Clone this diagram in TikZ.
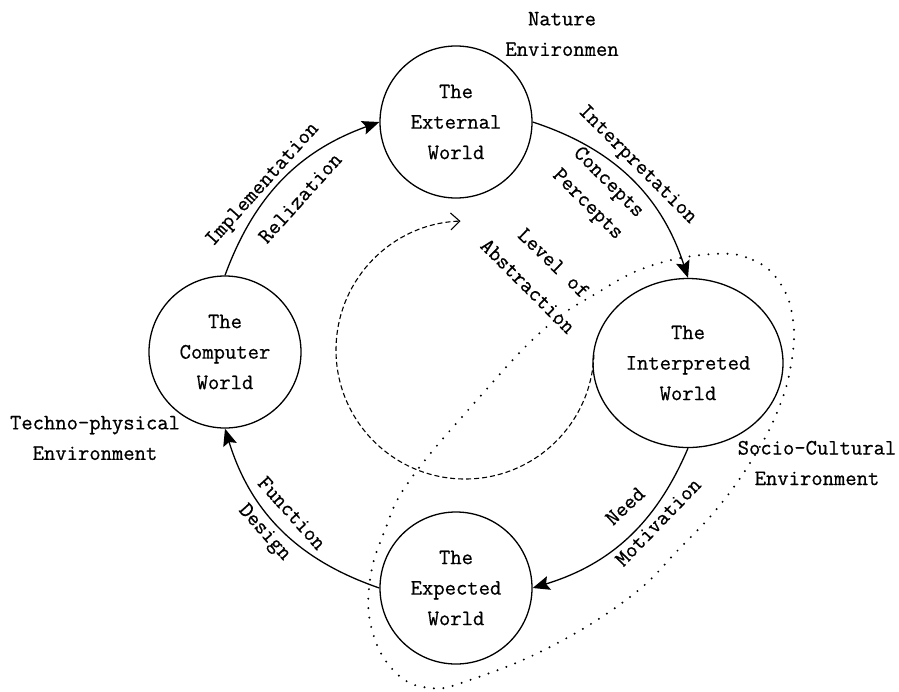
\documentclass[tikz,border=0pt]{standalone}
\usepackage{fontspec}
\setmonofont{Latin Modern Mono}[FakeBold=0.6]
\usetikzlibrary{arrows.meta,shapes.geometric}
\begin{document}
\begin{tikzpicture}[x=1pt,y=-1pt,
  txt/.style={font=\fontsize{22}{30.5}\selectfont\ttfamily, align=center, inner sep=0pt},
  world/.style={txt, draw, line width=1.3pt, circle, minimum size=152pt},
  flow/.style={draw, line width=1.3pt, -{Stealth[length=17pt,width=14pt,inset=3pt]}},
  abst/.style={draw, line width=1.1pt, dash pattern=on 5pt off 3pt, -{Straight Barb[length=9pt,width=17pt]}},
  socio/.style={draw, line width=2.2pt, line cap=round, dash pattern=on 0pt off 9.5pt}]
\fill[white] (0,0) rectangle (899,691);
\useasboundingbox (0,0) rectangle (899,691);

% worlds
\node[world] (ext) at (456,122) {The\\External\\World};
\node[world] (comp) at (225,352) {The\\Computer\\World};
\node[world, ellipse, minimum width=190pt, minimum height=169pt] (interp) at (688,363) {The\\Interpreted\\World};
\node[world] (expw) at (456,588) {The\\Expected\\World};

% cycle arrows
\draw[flow] (comp.north) to[bend left=25] (ext.west);
\draw[flow] (ext.east) to[bend left=27] (interp.north);
\draw[flow] (interp.south) to[bend left=25] (expw.east);
\draw[flow] (expw.west) to[bend left=27] (comp.south);

% level of abstraction arc
\coordinate (ac) at (465,350);
\draw[abst] (ac) ++(2:129) arc[start angle=2, end angle=268, radius=129];

% socio-cultural boundary
\draw[socio] plot[smooth cycle, tension=0.7] coordinates {
 (713,254) (753,260) (780,283) (793,320) (791,365) (778,410) (755,455)
 (720,505) (680,548) (630,597) (550,647) (470,680) (430,688) (395,672)
 (372,630) (370,580) (385,530) (410,480) (477,400) (543,330) (597,293) (650,266)};

% arc labels
\node[txt, rotate=48] (impl) at (263,185) {Implementation};
\node[txt, rotate=48] (reli) at (300,198) {Relization};
\node[txt, rotate=-45] (intp) at (637,165) {Interpretation};
\node[txt, rotate=-45] (conc) at (608,183) {Concepts};
\node[txt, rotate=-45] (perc) at (587,205) {Percepts};
\node[txt, rotate=-44] (lvl) at (554,263) {Level of};
\node[txt, rotate=-45] (abs) at (528,286) {Abstraction};
\node[txt, rotate=43] (need) at (625,506) {Need};
\node[txt, rotate=46] (moti) at (658,522) {Motivation};
\node[txt, rotate=-48] (func) at (292,513) {Function};
\node[txt, rotate=-48] (desi) at (264,533) {Design};

% environment labels
\node[txt] (nat) at (562,34) {Nature\\Environmen};
\node[txt] (tech) at (95,438) {Techno-physical\\Environment};
\node[txt] (soc) at (817,463) {Socio-Cultural\\Environment};
\end{tikzpicture}
\end{document}
